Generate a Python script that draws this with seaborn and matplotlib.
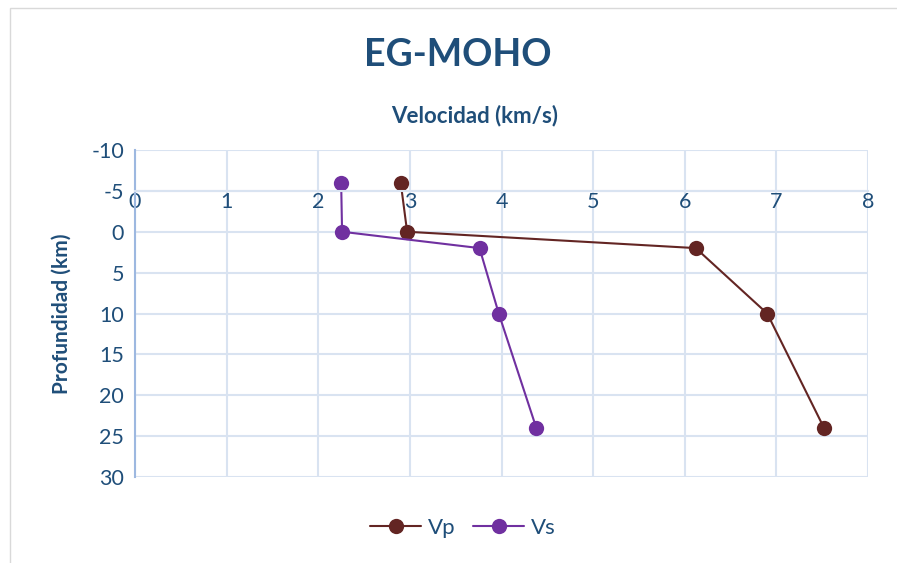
import matplotlib
matplotlib.use("Agg")
import matplotlib.pyplot as plt
import seaborn as sns
import pandas as pd
from matplotlib.patches import Rectangle

# velocity profile data
depth = [-6, 0, 2, 10, 24]
vp = [2.90, 2.97, 6.12, 6.90, 7.52]
vs = [2.25, 2.26, 3.76, 3.97, 4.38]
x_ticks = [0, 1, 2, 3, 4, 5, 6, 7, 8]
y_ticks = [-10, -5, 0, 5, 10, 15, 20, 25, 30]

TEXT = "#1f4e79"
GRID = "#d9e3f1"
VP_COLOR = "#632523"
VS_COLOR = "#7030a0"

sns.set_theme(style="white")
plt.rcParams["font.family"] = ["Lato", "DejaVu Sans"]
plt.rcParams["axes.unicode_minus"] = False

df = pd.concat([
    pd.DataFrame({"vel": vp, "depth": depth, "serie": "Vp"}),
    pd.DataFrame({"vel": vs, "depth": depth, "serie": "Vs"}),
])

fig = plt.figure(figsize=(8.97, 5.63), dpi=100)
ax = fig.add_axes([135 / 897, 1 - 477 / 563, (868 - 135) / 897, (477 - 150) / 563])

# outer chart border
fig.patches.append(Rectangle((10 / 897, -0.05), 1.1, 1 - 8 / 563 + 0.05,
                             transform=fig.transFigure, fill=False,
                             edgecolor="#d9d9d9", lw=1))

sns.lineplot(data=df, x="vel", y="depth", hue="serie", sort=False,
             palette={"Vp": VP_COLOR, "Vs": VS_COLOR}, marker="o",
             markersize=11, markeredgewidth=0, linewidth=1.5, ax=ax)

ax.set_xlim(0, 8)
ax.set_ylim(30, -10)
ax.set_xticks(x_ticks)
ax.set_yticks(y_ticks)
ax.grid(True, color=GRID, lw=1.5)
ax.set_axisbelow(True)

for s in ["top", "right"]:
    ax.spines[s].set_visible(False)
ax.spines["left"].set_color("#9db8e0")
ax.spines["left"].set_linewidth(1.5)
ax.spines["bottom"].set_position(("data", -5))
ax.spines["bottom"].set_color(GRID)
ax.spines["bottom"].set_linewidth(1.5)

ax.tick_params(axis="both", length=0, labelsize=15.5, colors=TEXT)
ax.tick_params(axis="x", pad=1)
ax.tick_params(axis="y", pad=8)

ax.set_xlabel("")
ax.set_ylabel("Profundidad (km)", fontsize=15, fontweight="bold", color=TEXT, labelpad=14)

fig.text(458 / 897, 1 - 55 / 563, "EG-MOHO", ha="center", va="center",
         fontsize=27, fontweight="bold", color=TEXT)
fig.text(475 / 897, 1 - 116 / 563, "Velocidad (km/s)", ha="center", va="center",
         fontsize=16, fontweight="bold", color=TEXT)

leg = ax.legend(loc="center", bbox_to_anchor=(463 / 897, 1 - 528 / 563),
                bbox_transform=fig.transFigure, ncol=2, frameon=False,
                fontsize=16, handlelength=2.3, columnspacing=0.8, handletextpad=0.3)
for t in leg.get_texts():
    t.set_color(TEXT)

fig.savefig("out.png", dpi=100)
